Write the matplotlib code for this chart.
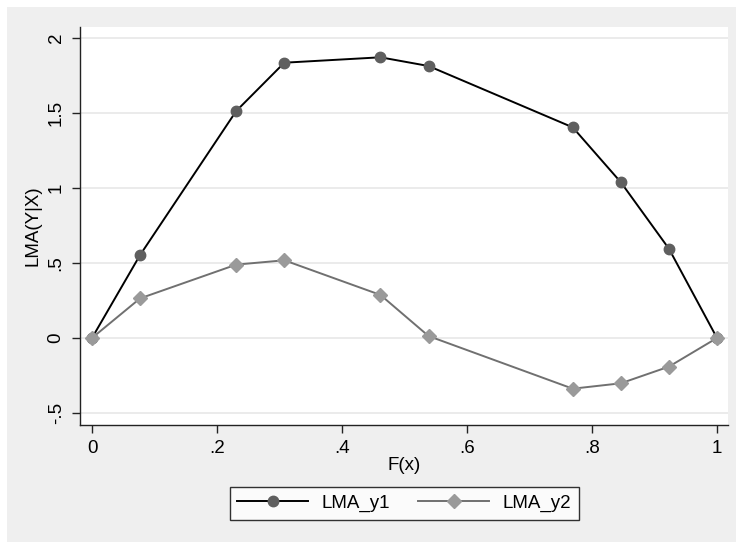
import matplotlib
matplotlib.use('Agg')
from matplotlib import pyplot as plt
from matplotlib.lines import Line2D

plt.rcParams['font.family'] = ['Liberation Sans', 'DejaVu Sans']

# data
fx = [0, 1/13, 3/13, 4/13, 6/13, 7/13, 10/13, 11/13, 12/13, 1]
lma_y1 = [0, 0.553, 1.513, 1.835, 1.871, 1.813, 1.404, 1.038, 0.595, 0]
lma_y2 = [0, 0.264, 0.489, 0.518, 0.287, 0.013, -0.338, -0.302, -0.191, 0]

xticks = [0, 0.2, 0.4, 0.6, 0.8, 1]
xticklabels = ['0', '.2', '.4', '.6', '.8', '1']
yticks = [-0.5, 0, 0.5, 1, 1.5, 2]
yticklabels = ['-.5', '0', '.5', '1', '1.5', '2']

W, H = 736, 542
FS = 13.5
fig = plt.figure(figsize=(W / 100, H / 100), dpi=100)
fig.patch.set_facecolor('white')

# gray graph region
bg = plt.Rectangle((7 / W, 0), 1 - 7 / W, 1 - 7 / H, transform=fig.transFigure,
                   facecolor='#efefef', edgecolor='none', zorder=-10)
fig.patches.append(bg)

ax = fig.add_axes([80 / W, 1 - 425 / H, (728 - 80) / W, (425 - 27) / H])
ax.set_facecolor('white')

ax.plot(fx, lma_y1, color='black', lw=1.4, marker='o', ms=7.5,
        mfc='#5f5f5f', mec='#5f5f5f', zorder=3)
ax.plot(fx, lma_y2, color='#707070', lw=1.4, marker='D', ms=7,
        mfc='#9a9a9a', mec='#9a9a9a', zorder=3)

ax.set_xlim(-0.0192, 1.0176)
ax.set_ylim(-0.58, 2.073)
ax.set_xticks(xticks)
ax.set_xticklabels(xticklabels)
ax.set_yticks(yticks)
ax.set_yticklabels(yticklabels, rotation=90, va='center')
ax.yaxis.grid(True, color='#e8e8e8', lw=1.2)
ax.set_axisbelow(True)

for s in ['top', 'right']:
    ax.spines[s].set_visible(False)
for s in ['left', 'bottom']:
    ax.spines[s].set_color('#222222')
    ax.spines[s].set_linewidth(1)

ax.tick_params(direction='out', length=6, width=1, color='#222222',
               labelsize=FS, pad=5)

ax.set_xlabel('F(x)', fontsize=FS, labelpad=0)
ax.set_ylabel('LMA(Y|X)', fontsize=FS)
ax.yaxis.set_label_coords(-0.06, 0.5)

handles = [
    Line2D([], [], color='black', lw=1.4, marker='o', ms=7.5,
           mfc='#5f5f5f', mec='#5f5f5f'),
    Line2D([], [], color='#707070', lw=1.4, marker='D', ms=7,
           mfc='#9a9a9a', mec='#9a9a9a'),
]
leg = fig.legend(handles, ['LMA_y1', 'LMA_y2'], loc='center',
                 bbox_to_anchor=(404 / W, 1 - 503.5 / H), ncol=2,
                 fontsize=FS, frameon=True, fancybox=False, handlelength=3.8,
                 columnspacing=1.5, borderpad=0.4, handletextpad=0.7)
leg.get_frame().set_edgecolor('black')
leg.get_frame().set_linewidth(1)
leg.get_frame().set_facecolor('white')

fig.savefig('out.png', dpi=100, facecolor=fig.get_facecolor())
